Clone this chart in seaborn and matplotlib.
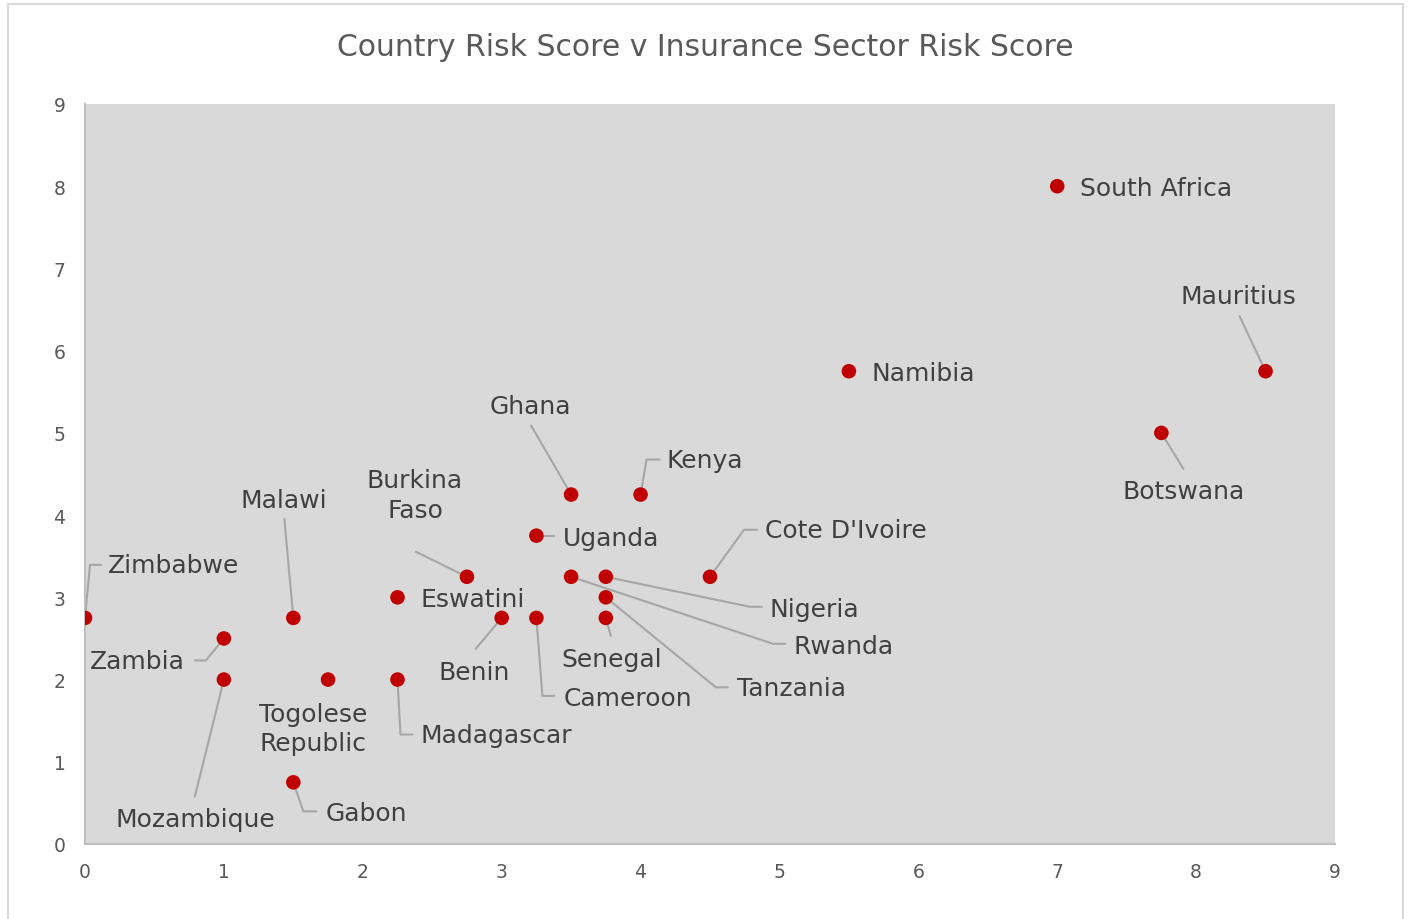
import matplotlib
matplotlib.use('Agg')
import matplotlib.pyplot as plt
import seaborn as sns
import pandas as pd
from matplotlib.patches import Rectangle

# Data
countries = ['South Africa', 'Namibia', 'Mauritius', 'Botswana', 'Ghana', 'Kenya',
             'Uganda', 'Burkina\nFaso', "Cote D'Ivoire", 'Zimbabwe', 'Malawi',
             'Eswatini', 'Nigeria', 'Rwanda', 'Tanzania', 'Senegal', 'Cameroon',
             'Benin', 'Zambia', 'Mozambique', 'Togolese\nRepublic', 'Madagascar',
             'Gabon']
country_risk = [7, 5.5, 8.5, 7.75, 3.5, 4, 3.25, 2.75, 4.5, 0, 1.5, 2.25, 3.75,
                3.5, 3.75, 3.75, 3.25, 3, 1, 1, 1.75, 2.25, 1.5]
sector_risk = [8, 5.75, 5.75, 5, 4.25, 4.25, 3.75, 3.25, 3.25, 2.75, 2.75, 3,
               3.25, 3.25, 3, 2.75, 2.75, 2.75, 2.5, 2, 2, 2, 0.75]

df = pd.DataFrame({'country': countries, 'x': country_risk, 'y': sector_risk})

# label placement in screen pixels relative to the marker (y downwards):
# (dx, dy, ha, leader path)
layout = {
    'South Africa': (23, 2, 'left', None),
    'Namibia': (23, 2, 'left', None),
    'Mauritius': (-27, -75, 'center', [(-26, -55), (0, 0)]),
    'Botswana': (22, 58, 'center', [(0, 0), (22, 36)]),
    'Ghana': (-41, -89, 'center', [(-40, -69), (0, 0)]),
    'Kenya': (26, -35, 'left', [(0, 0), (6, -35), (19, -35)]),
    'Uganda': (26, 2, 'left', [(0, 0), (18, 0)]),
    'Burkina\nFaso': (-52, -82, 'center', [(-51, -25), (0, 0)]),
    "Cote D'Ivoire": (55, -47, 'left', [(0, 0), (34, -47), (47, -47)]),
    'Zimbabwe': (23, -53, 'left', [(0, 0), (5, -53), (16, -53)]),
    'Malawi': (-10, -118, 'center', [(-9, -99), (0, 0)]),
    'Eswatini': (23, 2, 'left', None),
    'Nigeria': (164, 32, 'left', [(0, 0), (144, 30), (156, 30)]),
    'Rwanda': (222, 69, 'left', [(0, 0), (202, 67), (214, 67)]),
    'Tanzania': (131, 91, 'left', [(0, 0), (110, 90), (122, 90)]),
    'Senegal': (6, 41, 'center', [(0, 0), (5, 18)]),
    'Cameroon': (27, 80, 'left', [(0, 0), (6, 78), (18, 78)]),
    'Benin': (-27, 54, 'center', [(-26, 31), (0, 0)]),
    'Zambia': (-39, 23, 'right', [(-29, 22), (-18, 22), (0, 0)]),
    'Mozambique': (-29, 139, 'center', [(-29, 117), (0, 0)]),
    'Togolese\nRepublic': (-15, 49, 'center', None),
    'Madagascar': (23, 55, 'left', [(0, 0), (3, 55), (15, 55)]),
    'Gabon': (32, 31, 'left', [(0, 0), (10, 29), (23, 29)]),
}

sns.set_theme(style='white')
plt.rcParams['font.family'] = ['DejaVu Sans']

W, H = 1408, 920
fig = plt.figure(figsize=(W / 100, H / 100), dpi=100)

# chart frame
fig.patches.append(Rectangle((8 / W, -0.01), 1395 / W, 1 - 5 / H + 0.01,
                             transform=fig.transFigure, fill=False,
                             edgecolor='#D9D9D9', linewidth=1.5))

ax = fig.add_axes([85 / W, (H - 845) / H, 1250 / W, 740 / H])
ax.set_facecolor('#D9D9D9')

sns.scatterplot(data=df, x='x', y='y', ax=ax, color='#C00000', s=110,
                edgecolor='none', zorder=3)

ax.set_xlim(0, 9)
ax.set_ylim(0, 9)
ax.set_xticks(range(10))
ax.set_yticks(range(10))
ax.set_xlabel('')
ax.set_ylabel('')
ax.tick_params(axis='both', length=0, labelsize=13.5, labelcolor='#595959')
ax.tick_params(axis='x', pad=13)
ax.tick_params(axis='y', pad=14)
for side in ['top', 'right']:
    ax.spines[side].set_visible(False)
for side in ['left', 'bottom']:
    ax.spines[side].set_color('#BFBFBF')
    ax.spines[side].set_linewidth(1.5)

# pixels -> data units
sx = 9 / 1250
sy = 9 / 740

for _, row in df.iterrows():
    dx, dy, ha, path = layout[row['country']]
    if path is not None:
        px = [row['x'] + p[0] * sx for p in path]
        py = [row['y'] - p[1] * sy for p in path]
        ax.plot(px, py, color='#A6A6A6', linewidth=1.5, zorder=2,
                clip_on=False)
    ax.text(row['x'] + dx * sx, row['y'] - dy * sy, row['country'],
            ha=ha, va='center', fontsize=18, color='#404040',
            linespacing=1.3, zorder=4)

fig.text(705 / W, 1 - 47 / H, 'Country Risk Score v Insurance Sector Risk Score',
         ha='center', va='center', fontsize=21.5, color='#595959')

plt.savefig('out.png', dpi=100)
plt.close()
